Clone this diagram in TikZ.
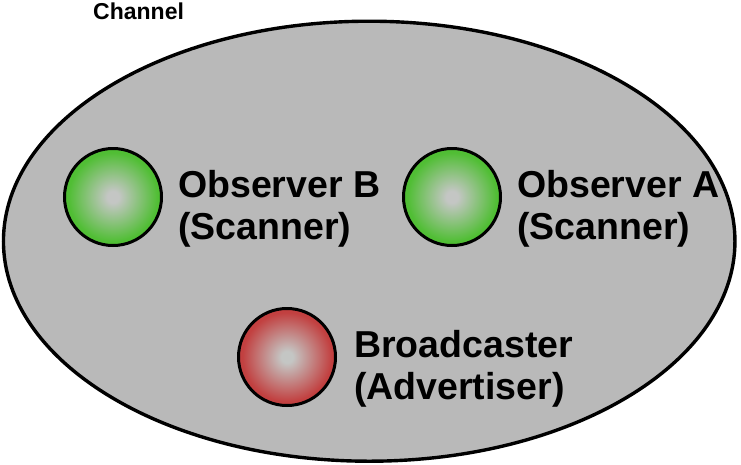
\documentclass[tikz,border=0pt]{standalone}
\usepackage{fontspec}
\setsansfont{Liberation Sans}
\usetikzlibrary{positioning,shapes.geometric}
\definecolor{chgray}{RGB}{185,185,185}
\definecolor{glow}{RGB}{196,198,196}
\definecolor{scangreen}{RGB}{80,190,52}
\definecolor{advred}{RGB}{194,64,64}
\pgfdeclareradialshading{greenglow}{\pgfpoint{0bp}{0bp}}{color(0bp)=(glow); color(3bp)=(glow); color(23bp)=(scangreen); color(50bp)=(scangreen)}
\pgfdeclareradialshading{redglow}{\pgfpoint{0bp}{0bp}}{color(0bp)=(glow); color(3bp)=(glow); color(23bp)=(advred); color(50bp)=(advred)}
\tikzset{
  area/.style={ellipse,draw=black,line width=3.4pt,fill=chgray,inner sep=0pt},
  device/.style={circle,draw=black,line width=3pt,minimum size=97pt,inner sep=0pt},
  scanner/.style={device,shading=greenglow},
  advertiser/.style={device,shading=redglow},
  role/.style={font=\sffamily\bfseries\fontsize{37.5}{41.5}\selectfont,align=left,inner sep=0pt,anchor=west},
  title/.style={font=\sffamily\bfseries\fontsize{23}{26}\selectfont,inner sep=0pt}
}
\begin{document}
\begin{tikzpicture}[x=1pt,y=-1pt]
\useasboundingbox (0,0) rectangle (741,464);
\node[area,minimum width=731.5pt,minimum height=440pt] (channel) at (369.2,241.2) {};
\node[title,anchor=base west] (chlabel) at (93,19) {Channel};

\node[scanner] (obsB) at (113,197) {};
\node[scanner] (obsA) at (452,197) {};
\node[advertiser] (bcast) at (287,357) {};

\node[role,right=15pt of obsB,yshift=-12pt] (obsBtxt) {Observer B\\(Scanner)};
\node[role,right=15pt of obsA,yshift=-12pt] (obsAtxt) {Observer A\\(Scanner)};
\node[role,right=17pt of bcast,yshift=-12pt] (bcasttxt) {Broadcaster\\(Advertiser)};
\end{tikzpicture}
\end{document}
